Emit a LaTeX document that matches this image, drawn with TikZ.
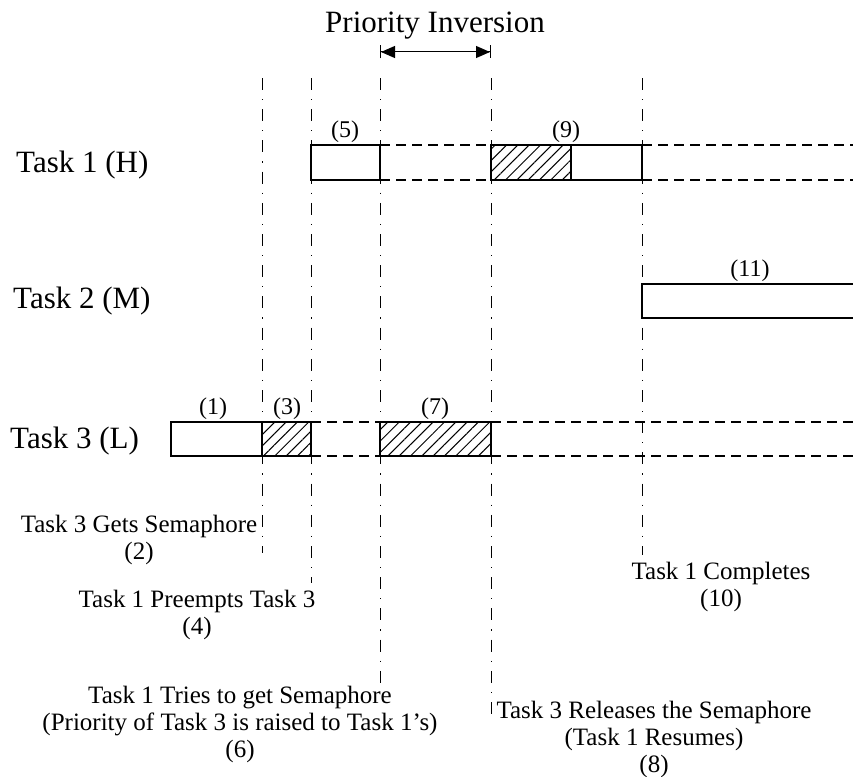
\documentclass[tikz,border=0pt]{standalone}
\usepackage{fontspec}
\setmainfont{Liberation Serif}
\usetikzlibrary{arrows.meta}
\usetikzlibrary{patterns.meta}

\tikzset{
  tache/.style={font=\fontsize{31}{34}\selectfont, anchor=base west, inner sep=0pt},
  evenement/.style={font=\fontsize{25}{27}\selectfont, align=center, inner sep=0pt},
  num/.style={font=\fontsize{24}{27}\selectfont, above, inner sep=2pt},
  repere/.style={line width=0.9pt, dash pattern=on 12pt off 9pt on 1.2pt off 9pt},
  attente/.style={line width=1.2pt, dash pattern=on 10pt off 6pt},
  bloc/.style={draw, line width=1.3pt},
  hachure/.style={draw, line width=1.3pt, pattern={Lines[angle=45,distance=8pt,line width=1pt]}},
}

\begin{document}
\begin{tikzpicture}[x=1pt, y=-1pt]
    \useasboundingbox (0,0) rectangle (853,776);

    % Titre
    \node[font=\fontsize{31}{34}\selectfont, anchor=base] (titre) at (435,33) {Priority Inversion};
    \coordinate (debut) at (380,52);
    \coordinate (fin) at (491,52);
    \draw[line width=1pt, {Bar[width=13pt]Triangle[length=14pt,width=12pt]}-{Triangle[length=14pt,width=12pt]Bar[width=13pt]}] (debut) -- (fin);

    % Lignes de repere
    \draw[repere] (262,78) -- (262,553);
    \draw[repere] (311,78) -- (311,583);
    \draw[repere] (380,78) -- (380,688);
    \draw[repere] (491,78) -- (491,718);
    \draw[repere] (642,78) -- (642,555);

    % Taches
    \node[tache] (t1) at (16,172) {Task 1 (H)};
    \node[tache] (t2) at (13,308) {Task 2 (M)};
    \node[tache] (t3) at (10,448) {Task 3 (L)};

    % Task 1
    \draw[bloc] (311,145) rectangle (380,180);
    \draw[attente] (380,145) -- (491,145);
    \draw[attente] (380,180) -- (491,180);
    \draw[hachure] (491,145) rectangle (571,180);
    \draw[bloc] (571,145) rectangle (642,180);
    \draw[attente] (642,145) -- (853,145);
    \draw[attente] (642,180) -- (853,180);
    \node[num] (n5) at (345,145) {(5)};
    \node[num] (n9) at (566,145) {(9)};

    % Task 2
    \draw[bloc] (853,284) -- (642,284) -- (642,318) -- (853,318);
    \node[num] (n11) at (750,284) {(11)};

    % Task 3
    \draw[bloc] (171,422) rectangle (262,456);
    \draw[hachure] (262,422) rectangle (311,456);
    \draw[attente] (311,422) -- (380,422);
    \draw[attente] (311,456) -- (380,456);
    \draw[hachure] (380,422) rectangle (491,456);
    \draw[attente] (491,422) -- (853,422);
    \draw[attente] (491,456) -- (853,456);
    \node[num] (n1) at (213,422) {(1)};
    \node[num] (n3) at (287,422) {(3)};
    \node[num] (n7) at (435,422) {(7)};

    % Evenements
    \node[evenement] (e2) at (139,540) {Task 3 Gets Semaphore\\(2)};
    \node[evenement] (e4) at (197,615) {Task 1 Preempts Task 3\\(4)};
    \node[evenement] (e6) at (240,724) {Task 1 Tries to get Semaphore\\(Priority of Task 3 is raised to Task 1's)\\(6)};
    \node[evenement] (e10) at (721,587) {Task 1 Completes\\(10)};
    \node[evenement] (e8) at (654,739) {Task 3 Releases the Semaphore\\(Task 1 Resumes)\\(8)};
\end{tikzpicture}
\end{document}
